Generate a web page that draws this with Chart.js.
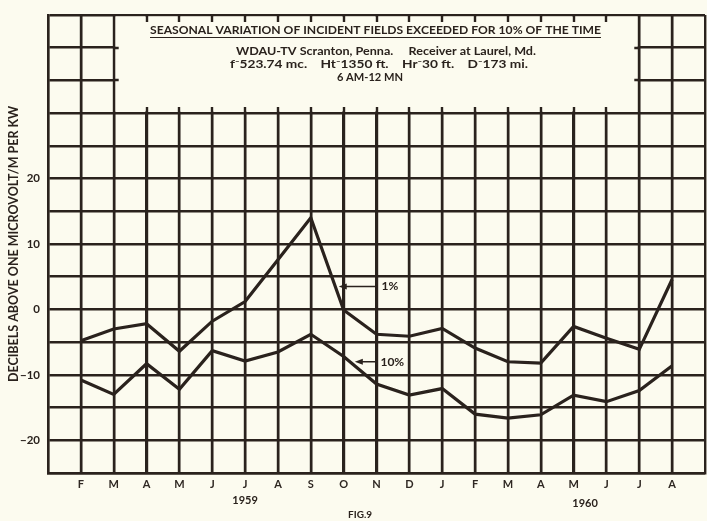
<!DOCTYPE html>
<html>
<head>
<meta charset="utf-8">
<script src="https://cdn.jsdelivr.net/npm/chart.js@4.4.1/dist/chart.umd.min.js"></script>
<style>
  html, body { margin: 0; padding: 0; background: #fcfbef; overflow: hidden; }
  #wrap { width: 710px; height: 521px; }
</style>
</head>
<body>
<div id="wrap"><canvas id="fig9" width="710" height="521"></canvas></div>
<script>
// Meses Feb 1959 – Ago 1960
const months = ['F','M','A','M','J','J','A','S','O','N','D','J','F','M','A','M','J','J','A'];
// Campo excedido el 1% del tiempo (dB sobre 1 µV/m por kW)
const pct1 = [-4.8, -3.0, -2.2, -6.4, -1.8, 1.2, 7.6, 14.0, -0.1, -3.8, -4.1, -2.9, -5.9, -8.0, -8.2, -2.6, -4.4, -6.1, 4.6];
// Campo excedido el 10% del tiempo
const pct10 = [-10.8, -13.0, -8.3, -12.2, -6.3, -7.9, -6.5, -3.8, -7.2, -11.4, -13.1, -12.1, -16.0, -16.6, -16.1, -13.1, -14.1, -12.4, -8.6];
const yLabelled = [-20, -10, 0, 10, 20];

const INK = '#2a221d';
const BG = '#fcfbef';
const FONT = 'Lato, "DejaVu Sans", sans-serif';
const GRID_W = 2.4;

// Dibuja texto estirado/comprimido a un ancho dado
function fitText(ctx, text, cx, cy, w) {
  const m = ctx.measureText(text).width;
  ctx.save();
  ctx.translate(cx, cy);
  ctx.scale(w / m, 1);
  ctx.fillText(text, 0, 0);
  ctx.restore();
}

const paperPlugin = {
  id: 'paper',
  beforeDraw(chart) {
    const { ctx, width, height } = chart;
    ctx.save();
    ctx.fillStyle = BG;
    ctx.fillRect(0, 0, width, height);
    ctx.restore();
  },
  afterDraw(chart) {
    const { ctx, chartArea, scales: { x, y } } = chart;
    const x0 = x.getPixelForValue(1), x1 = x.getPixelForValue(17);
    const yT = chartArea.top, yB = y.getPixelForValue(30);
    ctx.save();
    // recuadro del título
    ctx.fillStyle = BG;
    ctx.fillRect(x0 + 1.5, yT + 1.5, x1 - x0 - 3, yB - yT - 3);

    // rejilla vertical de meses y marcas del recuadro
    ctx.strokeStyle = INK;
    ctx.lineWidth = GRID_W;
    ctx.beginPath();
    for (let i = 0; i < months.length; i++) {
      const px = Math.round(x.getPixelForValue(i));
      const inBox = i >= 2 && i <= 16;
      ctx.moveTo(px, inBox ? yB - 6 : yT);
      ctx.lineTo(px, chartArea.bottom);
      if (inBox) { ctx.moveTo(px, yT); ctx.lineTo(px, yT + 7); }
    }
    [35, 40].forEach(v => {
      const py = Math.round(y.getPixelForValue(v));
      ctx.moveTo(x0, py); ctx.lineTo(x0 + 5, py);
      ctx.moveTo(x1, py); ctx.lineTo(x1 - 5, py);
    });
    ctx.stroke();

    ctx.fillStyle = INK;
    ctx.textAlign = 'center';
    ctx.textBaseline = 'middle';
    ctx.font = `bold 10.5px ${FONT}`;
    fitText(ctx, 'SEASONAL VARIATION OF INCIDENT FIELDS EXCEEDED FOR 10% OF THE TIME', 375.5, 31, 451);
    ctx.lineWidth = 1.2;
    ctx.beginPath();
    ctx.moveTo(150, 37.5); ctx.lineTo(601, 37.5);
    ctx.stroke();
    ctx.font = `bold 11px ${FONT}`;
    fitText(ctx, 'WDAU-TV Scranton, Penna.     Receiver at Laurel, Md.', 386, 51, 300);
    fitText(ctx, 'f\u207B523.74 mc.    Ht\u207B1350 ft.    Hr\u207B30 ft.    D\u207B173 mi.', 379, 64, 298);
    fitText(ctx, '6 AM-12 MN', 370, 77, 66);

    // flechas de las curvas
    ctx.lineWidth = 1.5;
    const arrow = (xTip, xTail, v) => {
      const py = y.getPixelForValue(v);
      const a = x.getPixelForValue(xTip), b = x.getPixelForValue(xTail);
      ctx.beginPath();
      ctx.moveTo(a + 4, py); ctx.lineTo(b, py);
      ctx.stroke();
      ctx.beginPath();
      ctx.moveTo(a, py); ctx.lineTo(a + 8, py - 3); ctx.lineTo(a + 8, py + 3);
      ctx.closePath(); ctx.fill();
    };
    arrow(7.85, 8.97, 3.5);
    arrow(8.34, 9.03, -8.0);
    ctx.font = `bold 12px ${FONT}`;
    ctx.textAlign = 'left';
    ctx.fillText('1%', x.getPixelForValue(9.15), y.getPixelForValue(3.5));
    ctx.fillText('10%', x.getPixelForValue(9.12), y.getPixelForValue(-8.0));

    ctx.textAlign = 'center';
    ctx.font = `bold 11px ${FONT}`;
    ctx.fillText('1959', x.getPixelForValue(5), 500);
    ctx.fillText('1960', x.getPixelForValue(15.35), 503);
    ctx.font = `bold 10px ${FONT}`;
    ctx.fillText('FIG.9', x.getPixelForValue(8.5), 515);
    ctx.restore();
  }
};

const lineStyle = {
  borderColor: INK,
  borderWidth: 3.2,
  pointRadius: 0,
  tension: 0,
  fill: false,
};

new Chart(document.getElementById('fig9'), {
  type: 'line',
  data: {
    datasets: [
      { label: '1%', data: pct1.map((v, i) => ({ x: i, y: v })), ...lineStyle },
      { label: '10%', data: pct10.map((v, i) => ({ x: i, y: v })), ...lineStyle },
    ],
  },
  options: {
    responsive: false,
    animation: false,
    events: [],
    layout: { padding: { top: 7, right: 0, left: 0, bottom: 0 } },
    plugins: { legend: { display: false }, tooltip: { enabled: false } },
    scales: {
      x: {
        type: 'linear',
        min: -1,
        max: 19,
        afterFit: s => { s.height = 48; },
        grid: { color: INK, lineWidth: GRID_W, drawTicks: false },
        border: { color: INK, width: GRID_W },
        ticks: {
          stepSize: 1,
          autoSkip: false,
          maxRotation: 0,
          padding: 5,
          color: '#2f2823',
          font: { family: FONT, size: 11, weight: 'bold' },
          callback: v => months[v] ?? '',
        },
      },
      y: {
        min: -25,
        max: 45,
        afterFit: s => { s.width = 48; },
        grid: { color: INK, lineWidth: GRID_W, drawTicks: false },
        border: { color: INK, width: GRID_W },
        ticks: {
          stepSize: 5,
          padding: 8,
          color: INK,
          font: { family: FONT, size: 11.5, weight: 'bold' },
          callback: v => yLabelled.includes(v) ? (v < 0 ? '\u2212' + (-v) : String(v)) : '',
        },
        title: {
          display: true,
          text: 'DECIBELS ABOVE ONE MICROVOLT/M PER KW',
          color: INK,
          padding: { top: 6, bottom: 0 },
          font: { family: FONT, size: 12.5, weight: 'bold' },
        },
      },
    },
  },
  plugins: [paperPlugin],
});
</script>
</body>
</html>
